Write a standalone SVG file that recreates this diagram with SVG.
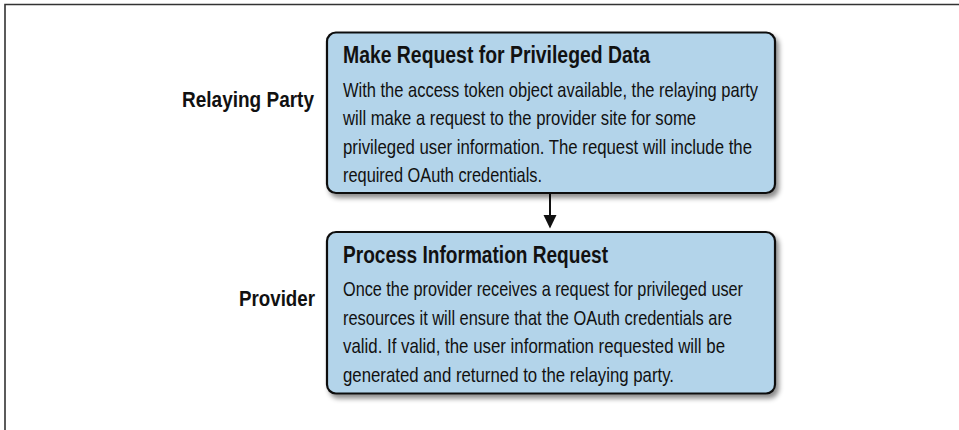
<svg xmlns="http://www.w3.org/2000/svg" width="959" height="430" viewBox="0 0 959 430">
<style>
.box{fill:#b3d4ea;stroke:#111;stroke-width:2.2}
.title{font-family:"Liberation Sans",Arial,sans-serif;font-weight:bold;font-size:23px;fill:#111}
.body{font-family:"Liberation Sans",Arial,sans-serif;font-size:21px;fill:#111}
.lbl{font-family:"Liberation Sans",Arial,sans-serif;font-weight:bold;font-size:22px;fill:#111}
.frame{stroke:#333;stroke-width:1.6;fill:none}
</style>
<defs>
<filter id="sh" x="-10%" y="-10%" width="120%" height="130%">
<feDropShadow dx="3" dy="4" stdDeviation="2.5" flood-color="#000" flood-opacity="0.45"/>
</filter>
</defs>
<path class="frame" d="M5,430 L5,4.5 L959,4.5"/>
<g id="lane-relaying"><text class="lbl" x="182" y="107" textLength="132" lengthAdjust="spacingAndGlyphs">Relaying Party</text></g>
<g id="lane-provider"><text class="lbl" x="239" y="306" textLength="76" lengthAdjust="spacingAndGlyphs">Provider</text></g>
<g id="connectors">
<line x1="550" y1="194" x2="550" y2="216" stroke="#111" stroke-width="2"/>
<path d="M543.5,215 L556.5,215 L550,228.5 Z" fill="#111"/>
</g>
<g id="node-make-request">
<rect class="box" x="327" y="32.5" width="448" height="160.5" rx="9" filter="url(#sh)"/>
<text class="title" x="343" y="63" textLength="307" lengthAdjust="spacingAndGlyphs">Make Request for Privileged Data</text>
<text class="body" x="343" y="96.5" textLength="415" lengthAdjust="spacingAndGlyphs">With the access token object available, the relaying party</text>
<text class="body" x="343" y="125" textLength="353" lengthAdjust="spacingAndGlyphs">will make a request to the provider site for some</text>
<text class="body" x="343" y="153.5" textLength="409" lengthAdjust="spacingAndGlyphs">privileged user information. The request will include the</text>
<text class="body" x="343" y="182" textLength="199" lengthAdjust="spacingAndGlyphs">required OAuth credentials.</text>
</g>
<g id="node-process-request">
<rect class="box" x="327" y="232" width="448" height="161.5" rx="9" filter="url(#sh)"/>
<text class="title" x="343" y="262.5" textLength="265" lengthAdjust="spacingAndGlyphs">Process Information Request</text>
<text class="body" x="343" y="296" textLength="400" lengthAdjust="spacingAndGlyphs">Once the provider receives a request for privileged user</text>
<text class="body" x="343" y="324.5" textLength="389" lengthAdjust="spacingAndGlyphs">resources it will ensure that the OAuth credentials are</text>
<text class="body" x="343" y="353" textLength="382" lengthAdjust="spacingAndGlyphs">valid. If valid, the user information requested will be</text>
<text class="body" x="343" y="381.5" textLength="331" lengthAdjust="spacingAndGlyphs">generated and returned to the relaying party.</text>
</g>
</svg>
